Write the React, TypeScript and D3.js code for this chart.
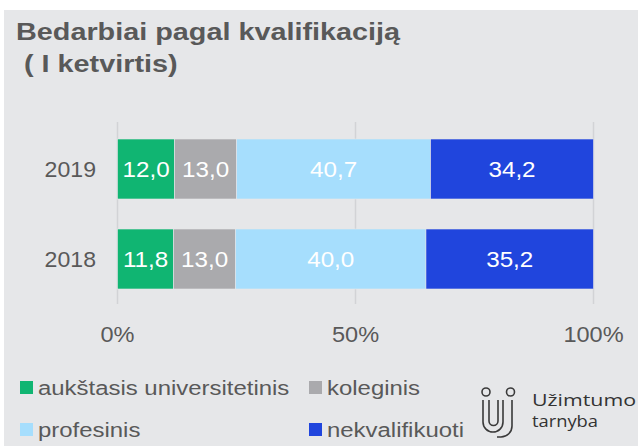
import React from "react";
import * as d3 from "d3";

const years = ["2019", "2018"];
const seriesNames = ["aukštasis universitetinis", "koleginis", "profesinis", "nekvalifikuoti"];
const seriesColors = ["#10b572", "#aaaaad", "#a6defd", "#2045dd"];
const universitetinis = [12.0, 11.8];
const koleginis = [13.0, 13.0];
const profesinis = [40.7, 40.0];
const nekvalifikuoti = [34.2, 35.2];
const tickValues = [0, 50, 100];
const tickLabels = ["0%", "50%", "100%"];

const W = 638;
const H = 446;
const font = "'Liberation Sans', Arial, sans-serif";

type TP = {
  x: number;
  y: number;
  size: number;
  sx?: number;
  anchor?: "start" | "middle" | "end";
  fill?: string;
  weight?: string;
  children: React.ReactNode;
};

function T({ x, y, size, sx = 1, anchor = "start", fill = "#595959", weight = "normal", children }: TP) {
  return (
    <text
      transform={`translate(${x},${y}) scale(${sx},1)`}
      textAnchor={anchor}
      fontSize={size}
      fontWeight={weight}
      fill={fill}
      style={{ whiteSpace: "pre" }}
    >
      {children}
    </text>
  );
}

export default function App() {
  const x = d3.scaleLinear().domain([0, 100]).range([117.5, 593.5]);
  const y = d3.scaleBand<string>().domain(years).range([124, 304]).paddingInner(1 / 3).paddingOuter(1 / 6);

  const rows = years.map((yr, i) => {
    const vals = [universitetinis[i], koleginis[i], profesinis[i], nekvalifikuoti[i]];
    const total = d3.sum(vals);
    let acc = 0;
    const segs = vals.map((v, k) => {
      const x0 = (acc / total) * 100;
      acc += v;
      const x1 = (acc / total) * 100;
      return { v, k, x0, x1 };
    });
    return { yr, segs };
  });

  const fmt = (v: number) => v.toFixed(1).replace(".", ",");

  const legend = [
    { k: 0, x: 20, y: 381 },
    { k: 1, x: 309, y: 381 },
    { k: 2, x: 20, y: 423 },
    { k: 3, x: 309, y: 423 },
  ];

  return (
    <svg width={W} height={H} style={{ position: "absolute", left: 0, top: 0 }} fontFamily={font}>
      <rect x={0} y={0} width={W} height={H} fill="#ffffff" />
      <rect x={4} y={10} width={W - 4} height={H - 10} fill="#e6e7e9" />
      <T x={16} y={40} size={24} sx={1.2} weight="bold">Bedarbiai pagal kvalifikaciją</T>
      <T x={16} y={72} size={24} sx={1.2} weight="bold">{" ( I ketvirtis)"}</T>

      {tickValues.map((t) => (
        <line key={t} x1={x(t)} x2={x(t)} y1={122} y2={304} stroke="#d2d3d6" strokeWidth={1.5} />
      ))}

      {rows.map((r) => {
        const cy = y(r.yr)! + y.bandwidth() / 2;
        return (
          <g key={r.yr}>
            {r.segs.map((s) => (
              <rect
                key={s.k}
                x={x(s.x0)}
                y={y(r.yr)!}
                width={x(s.x1) - x(s.x0)}
                height={y.bandwidth()}
                fill={seriesColors[s.k]}
                stroke="#e6e7e9"
                strokeWidth={0.6}
              />
            ))}
            {r.segs.map((s) => (
              <T key={"t" + s.k} x={(x(s.x0) + x(s.x1)) / 2} y={cy + 8} size={22} sx={1.1} anchor="middle" fill="#ffffff">
                {fmt(s.v)}
              </T>
            ))}
            <T x={96} y={cy + 8} size={22} sx={1.05} anchor="end">
              {r.yr}
            </T>
          </g>
        );
      })}

      {tickValues.map((t, i) => (
        <T key={"l" + t} x={x(t)} y={342} size={22} sx={1.07} anchor="middle">
          {tickLabels[i]}
        </T>
      ))}

      {legend.map((l) => (
        <g key={l.k}>
          <rect x={l.x} y={l.y} width={13} height={13} fill={seriesColors[l.k]} />
          <T x={l.x + 18} y={l.y + 14} size={21} sx={1.14}>
            {seriesNames[l.k]}
          </T>
        </g>
      ))}

      <g fill="none" stroke="#3a3a3a" strokeWidth={1.6}>
        <circle cx={486} cy={392} r={4} />
        <circle cx={510.5} cy={392} r={4} />
        <path d="M483,400 V422 a10,10 0 0 0 20,0 V400" />
        <path d="M489,400 V421 a4.5,4.5 0 0 0 9,0 V400" />
        <path d="M512,400 V426 a11,11 0 0 1 -11,11 H497" />
      </g>
      <g fontFamily="'Open Sans', sans-serif" fontSize={16} fill="#333333">
        <text x={532} y={406} textLength={104} lengthAdjust="spacingAndGlyphs">Užimtumo</text>
        <text x={532} y={427} textLength={66} lengthAdjust="spacingAndGlyphs">tarnyba</text>
      </g>
    </svg>
  );
}
